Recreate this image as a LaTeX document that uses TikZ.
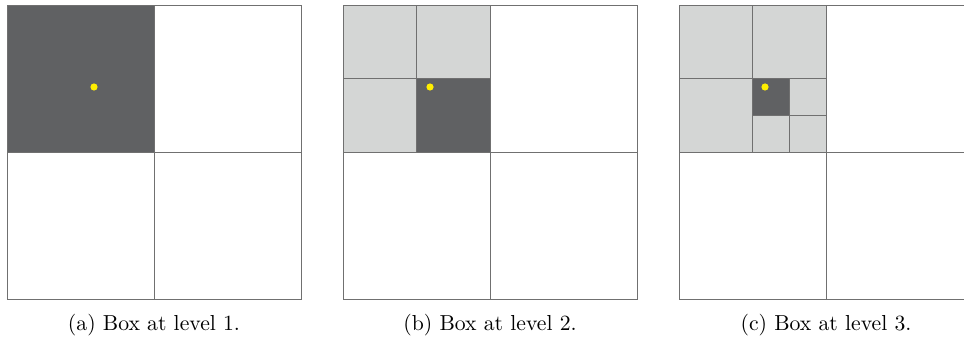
\documentclass[tikz,border=0pt]{standalone}
\usepackage{tikz}
\definecolor{darkbox}{HTML}{606163}
\definecolor{lightbox}{HTML}{D4D6D5}
\definecolor{gridline}{HTML}{707070}
\definecolor{dotyellow}{HTML}{FFEE00}
\tikzset{
  cell/.style={draw=gridline, line width=0.9pt},
  darkcell/.style={cell, fill=darkbox},
  lightcell/.style={cell, fill=lightbox},
  whitecell/.style={cell, fill=white},
  pointdot/.style={fill=dotyellow, draw=none},
  captiontext/.style={font=\fontsize{10}{12}\selectfont, scale=2.17, anchor=base, inner sep=0pt}
}
\begin{document}
\begin{tikzpicture}[x=1pt,y=-1pt]
\clip (0,0) rectangle (964,342);
\fill[white] (0,0) rectangle (964,342);
% ---------- panel (a)
\begin{scope}[shift={(7,5)}]
  \draw[whitecell] (147,0) rectangle (294,147);
  \draw[whitecell] (0,147) rectangle (147,294);
  \draw[whitecell] (147,147) rectangle (294,294);
  \draw[darkcell] (0,0) rectangle (147,147);
  \fill[pointdot] (87,82) circle (3.6);
\end{scope}
\node[captiontext] (capa) at (154,330) {(a) Box at level 1.};
% ---------- panel (b)
\begin{scope}[shift={(343,5)}]
  \draw[whitecell] (147,0) rectangle (294,147);
  \draw[whitecell] (0,147) rectangle (147,294);
  \draw[whitecell] (147,147) rectangle (294,294);
  \draw[lightcell] (0,0) rectangle (73.5,73.5);
  \draw[lightcell] (73.5,0) rectangle (147,73.5);
  \draw[lightcell] (0,73.5) rectangle (73.5,147);
  \draw[darkcell] (73.5,73.5) rectangle (147,147);
  \fill[pointdot] (87,82) circle (3.6);
\end{scope}
\node[captiontext] (capb) at (490,330) {(b) Box at level 2.};
% ---------- panel (c)
\begin{scope}[shift={(679,5)}]
  \draw[whitecell] (147,0) rectangle (294,147);
  \draw[whitecell] (0,147) rectangle (147,294);
  \draw[whitecell] (147,147) rectangle (294,294);
  \draw[lightcell] (0,0) rectangle (73.5,73.5);
  \draw[lightcell] (73.5,0) rectangle (147,73.5);
  \draw[lightcell] (0,73.5) rectangle (73.5,147);
  \draw[lightcell] (110.25,73.5) rectangle (147,110.25);
  \draw[lightcell] (73.5,110.25) rectangle (110.25,147);
  \draw[lightcell] (110.25,110.25) rectangle (147,147);
  \draw[darkcell] (73.5,73.5) rectangle (110.25,110.25);
  \fill[pointdot] (86,82) circle (3.6);
\end{scope}
\node[captiontext] (capc) at (826,330) {(c) Box at level 3.};
\end{tikzpicture}
\end{document}
